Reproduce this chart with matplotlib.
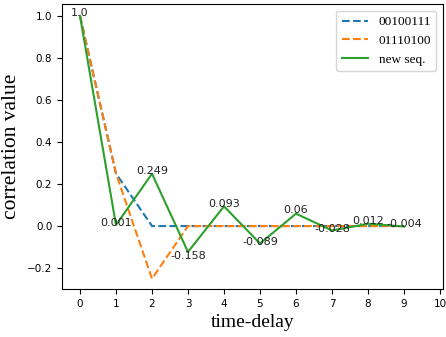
import matplotlib
matplotlib.use("Agg")
import matplotlib.pyplot as plt

delays = list(range(10))
seq_a = [1.0, 0.25, 0.0, 0.0, 0.0, 0.0, 0.0, 0.0, 0.0, 0.0]
seq_b = [1.0, 0.25, -0.25, 0.0, 0.0, 0.0, 0.0, 0.0, 0.0, 0.0]
new_seq = [1.0, 0.005, 0.249, -0.123, 0.094, -0.083, 0.059, -0.021, 0.011, -0.002]
label_vals = [1.0, 0.001, 0.249, -0.158, 0.093, -0.089, 0.06, -0.028, 0.012, -0.004]
label_txt = ["1.0", "0.001", "0.249", "-0.158", "0.093", "-0.089", "0.06", "-0.028", "0.012", "-0.004"]
xticks = list(range(11))
yticks = [-0.2, 0.0, 0.2, 0.4, 0.6, 0.8, 1.0]

fig = plt.figure(figsize=(4.46, 3.37), dpi=100)
ax = fig.add_axes([0.139, 0.142, 0.854, 0.846])
ax.plot(delays, seq_a, '--', color='#1f77b4', label='00100111')
ax.plot(delays, seq_b, '--', color='#ff7f0e', label='01110100')
ax.plot(delays, new_seq, '-', color='#2ca02c', label='new seq.')
for x, y, t in zip(delays, label_vals, label_txt):
    ax.text(x, y, t, ha='center', va='baseline', fontsize=8, color='#222222')
ax.set_xlim(-0.5, 10.08)
ax.set_ylim(-0.30, 1.056)
ax.set_xticks(xticks)
ax.set_yticks(yticks)
ax.tick_params(labelsize=7.5)
ax.set_xlabel('time-delay', fontsize=14, family='Liberation Serif')
ax.set_ylabel('correlation value', fontsize=15.5, family='Liberation Serif')
ax.legend(loc='upper right', prop={'family': 'Liberation Serif', 'size': 9.5})
fig.savefig('out.png', dpi=100)
